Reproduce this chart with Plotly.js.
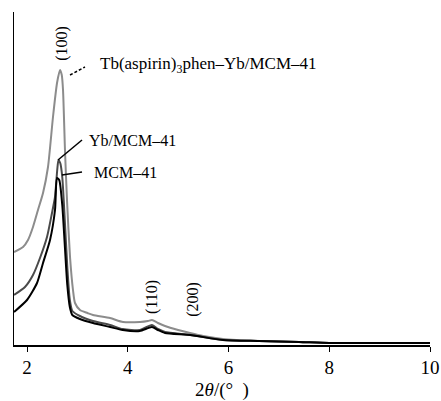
<!DOCTYPE html>
<html>
<head>
<meta charset="utf-8">
<script src="https://cdn.plot.ly/plotly-3.0.1.min.js"></script>
<style>html,body{margin:0;padding:0;background:#fff;}#chart{width:441px;height:401px;}</style>
</head>
<body>
<div id="chart"></div>
<script>
// 2θ values and intensities (arbitrary units)
const tbX = [1.742, 1.921, 2.02, 2.119, 2.218, 2.318, 2.417, 2.516, 2.596, 2.655, 2.69, 2.715, 2.754, 2.794, 2.854, 2.913, 2.953, 3.052, 3.2, 3.31, 3.648, 3.906, 4.243, 4.40, 4.48, 4.6, 4.739, 5.0, 5.236, 5.5, 5.891, 6.625, 7.419, 8.015, 9.0, 10];
const tbY = [93, 98, 105, 118, 135, 152, 178, 228, 262, 275, 270, 255, 195, 145, 88, 55, 42, 35, 32, 30, 27, 23, 23, 24, 25, 22, 19, 15, 12, 9, 6, 4, 3, 2, 2, 2];

const ybX = [1.742, 1.96, 2.119, 2.258, 2.397, 2.496, 2.556, 2.60, 2.625, 2.66, 2.70, 2.75, 2.80, 2.85, 2.90, 3.05, 3.31, 3.65, 3.9, 4.24, 4.48, 4.6, 4.74, 5.24, 5.89, 6.6, 7.4, 8.0, 9.0, 10];
const ybY = [50, 58, 70, 87, 108, 132, 148, 175, 185, 182, 168, 125, 78, 45, 34, 29, 24, 20, 16, 15, 20, 16, 13, 10, 5, 4, 3, 2, 2, 2];

const mcmX = [1.742, 2.0, 2.199, 2.318, 2.457, 2.556, 2.596, 2.64, 2.70, 2.75, 2.80, 2.85, 2.90, 3.05, 3.31, 3.65, 3.9, 4.24, 4.48, 4.6, 4.74, 5.24, 5.89, 6.6, 7.4, 8.0, 9.0, 10];
const mcmY = [33, 45, 62, 82, 105, 135, 167, 165, 140, 100, 60, 38, 30, 26, 22, 18, 15, 14, 18, 15, 12, 10, 5, 4, 3, 2, 2, 2];

const xTicks = [2, 4, 6, 8, 10];
const seriesNames = ["Tb(aspirin)<sub>3</sub>phen–Yb/MCM–41", "Yb/MCM–41", "MCM–41"];
const peakLabels = ["(100)", "(110)", "(200)"];

const font = "Liberation Serif";

const traces = [
  {x: tbX, y: tbY, mode: "lines", line: {color: "#8c8c8c", width: 2, shape: "spline", smoothing: 0.6}, name: seriesNames[0]},
  {x: ybX, y: ybY, mode: "lines", line: {color: "#4a4a4a", width: 2, shape: "spline", smoothing: 0.6}, name: seriesNames[1]},
  {x: mcmX, y: mcmY, mode: "lines", line: {color: "#000000", width: 2, shape: "spline", smoothing: 0.6}, name: seriesNames[2]}
];

const ann = (x, y, text, extra) => Object.assign({x: x, y: y, xref: "x", yref: "y", text: text, showarrow: false, font: {family: font, size: 16, color: "#000"}}, extra || {});

const layout = {
  width: 441, height: 401,
  margin: {l: 14, r: 11, t: 12, b: 56},
  paper_bgcolor: "#fff", plot_bgcolor: "#fff",
  showlegend: false,
  font: {family: font, color: "#000"},
  xaxis: {
    range: [1.742, 10], tickvals: xTicks, ticktext: xTicks.map(String),
    showline: true, linecolor: "#000", linewidth: 1.5, ticks: "outside", ticklen: 5, tickcolor: "#000",
    showgrid: false, zeroline: false, tickfont: {family: font, size: 19, color: "#000"},
    title: {text: "2<i>θ</i>/(°  )", font: {family: font, size: 19, color: "#000"}, standoff: 8}
  },
  yaxis: {
    range: [0, 333], showline: true, linecolor: "#000", linewidth: 1.5, ticks: "", showticklabels: false,
    showgrid: false, zeroline: false
  },
  shapes: [
    {type: "line", xref: "x", yref: "y", x0: 2.854, y0: 270, x1: 3.151, y1: 278, line: {color: "#000", width: 1.5, dash: "3px,2px"}},
    {type: "line", xref: "x", yref: "y", x0: 2.615, y0: 185, x1: 3.092, y1: 205, line: {color: "#000", width: 1.5}},
    {type: "line", xref: "x", yref: "y", x0: 2.695, y0: 170, x1: 3.092, y1: 173, line: {color: "#000", width: 1.5}}
  ],
  annotations: [
    ann(2.69, 302, peakLabels[0], {textangle: -90}),
    ann(4.48, 48, peakLabels[1], {textangle: -90}),
    ann(5.29, 46, peakLabels[2], {textangle: -90}),
    ann(3.41, 280, seriesNames[0], {xanchor: "left", font: {family: font, size: 17, color: "#000"}}),
    ann(3.19, 205, seriesNames[1], {xanchor: "left"}),
    ann(3.290, 173, seriesNames[2], {xanchor: "left"})
  ]
};

Plotly.newPlot("chart", traces, layout, {staticPlot: true, displayModeBar: false});
</script>
</body>
</html>
